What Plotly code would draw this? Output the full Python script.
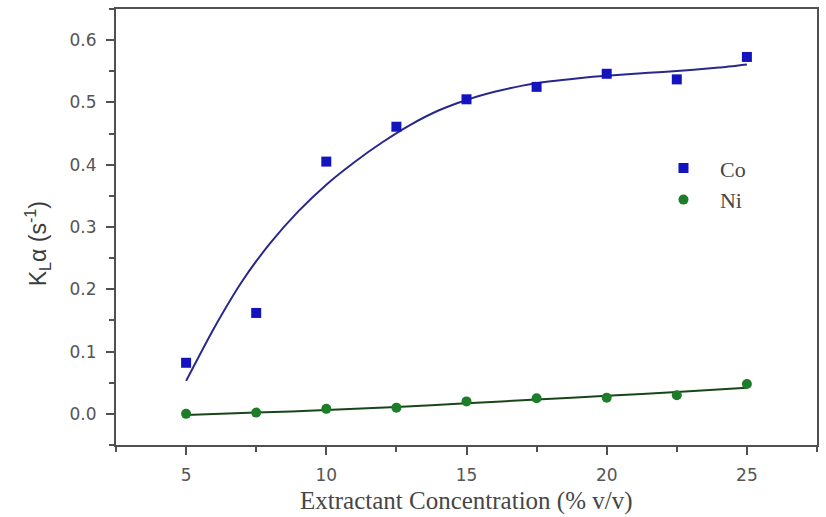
import plotly.graph_objects as go

# Measured data
conc = [5, 7.5, 10, 12.5, 15, 17.5, 20, 22.5, 25]
co_vals = [0.082, 0.162, 0.405, 0.461, 0.505, 0.525, 0.546, 0.537, 0.573]
ni_vals = [0.000, 0.002, 0.008, 0.010, 0.020, 0.025, 0.026, 0.030, 0.048]

# Fitted curves
co_fit_x = [5, 6, 7, 8, 9, 10, 11, 12, 13, 14, 15, 16, 17, 18, 19, 20, 21, 22, 23, 24, 25]
co_fit_y = [0.053, 0.138, 0.213, 0.274, 0.325, 0.368, 0.404, 0.436, 0.464, 0.487, 0.504,
            0.517, 0.527, 0.534, 0.539, 0.543, 0.546, 0.549, 0.552, 0.556, 0.561]
ni_fit_x = [5, 7.5, 10, 12.5, 15, 17.5, 20, 22.5, 25]
ni_fit_y = [-0.002, 0.002, 0.006, 0.011, 0.017, 0.023, 0.029, 0.035, 0.042]

x_ticks = [5, 10, 15, 20, 25]
y_ticks = [0.0, 0.1, 0.2, 0.3, 0.4, 0.5, 0.6]

blue = "rgb(20,20,190)"
green = "rgb(30,125,40)"
axis_col = "rgb(80,80,80)"
nb = "\u00a0\u00a0\u00a0"

fig = go.Figure()
fig.add_trace(go.Scatter(x=co_fit_x, y=co_fit_y, mode="lines",
                         line=dict(color="rgb(40,40,140)", width=2, shape="spline", smoothing=0.6),
                         showlegend=False, hoverinfo="skip"))
fig.add_trace(go.Scatter(x=ni_fit_x, y=ni_fit_y, mode="lines",
                         line=dict(color="rgb(25,70,25)", width=2, shape="spline", smoothing=0.6),
                         showlegend=False, hoverinfo="skip"))
fig.add_trace(go.Scatter(x=conc, y=co_vals, mode="markers", name=nb + "Co",
                         marker=dict(symbol="square", size=10, color=blue)))
fig.add_trace(go.Scatter(x=conc, y=ni_vals, mode="markers", name=nb + "Ni",
                         marker=dict(symbol="circle", size=10, color=green)))

axis_common = dict(showline=True, linecolor=axis_col, linewidth=2, mirror=True,
                   showgrid=False, zeroline=False, ticks="outside", ticklen=8, tickwidth=1.5,
                   tickcolor=axis_col, ticklabelstandoff=6,
                   tickfont=dict(family="DejaVu Sans", size=17, color="rgb(85,85,85)"))

fig.update_xaxes(range=[2.5, 27.5], tickvals=x_ticks,
                 minor=dict(ticks="outside", ticklen=5, dtick=2.5, tick0=2.5, tickcolor=axis_col),
                 **axis_common)
fig.update_yaxes(range=[-0.05, 0.65], tickvals=y_ticks, tickformat=".1f",
                 minor=dict(ticks="outside", ticklen=5, dtick=0.05, tick0=0.05, tickcolor=axis_col),
                 **axis_common)

fig.add_annotation(text="Extractant Concentration (% v/v)", xref="paper", yref="paper",
                   x=0.5, y=-(501 - 445) / 438, xanchor="center", yanchor="middle", showarrow=False,
                   font=dict(family="Liberation Serif, Times New Roman", size=25, color="rgb(70,70,70)"))
fig.add_annotation(text="K<sub>L</sub>α (s<sup>-1</sup>)", xref="paper", yref="paper",
                   x=-(116 - 37) / 703, y=0.461, xanchor="center", yanchor="middle", textangle=-90,
                   showarrow=False,
                   font=dict(family="Liberation Sans, Arial", size=23, color="rgb(60,60,60)"))

fig.update_layout(
    width=826, height=517,
    margin=dict(l=116, r=7, t=7, b=72),
    paper_bgcolor="white", plot_bgcolor="white",
    legend=dict(x=0.781, y=0.683, xanchor="left", yanchor="top", bgcolor="rgba(0,0,0,0)",
                font=dict(family="Liberation Serif, Times New Roman", size=22, color="rgb(70,70,70)"),
                tracegroupgap=0),
)

fig.write_html("out.html")
